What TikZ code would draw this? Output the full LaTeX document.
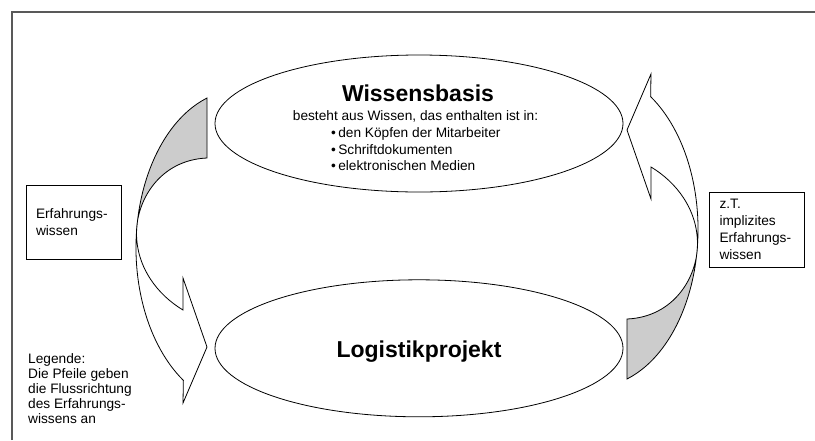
\documentclass[tikz,border=0pt]{standalone}
\usepackage{fontspec}
\setmainfont{Liberation Sans}
\usetikzlibrary{shapes.geometric,positioning}

\begin{document}
\begin{tikzpicture}[x=1pt, y=1pt,
      ell/.style    = {ellipse, draw, line width=0.8pt,
                       minimum width=408pt, minimum height=137pt, inner sep=0pt},
      titel/.style  = {font=\fontsize{23}{26}\selectfont\bfseries, inner sep=0pt},
      txt/.style    = {font=\fontsize{13.7}{16.5}\selectfont, inner sep=0pt},
      kasten/.style = {rectangle, draw, line width=0.7pt,
                       minimum height=74pt, text width=75pt, inner xsep=10pt,
                       align=left, font=\fontsize{13.7}{17}\selectfont},
      pfeil/.pic    = {
        % Rueckseite (grau)
        \fill[black!20] (207,-98) arc[start angle=108.5, end angle=174.5, x radius=104, y radius=158]
          .. controls (136.5,-200) and (160,-160) .. (207,-158) -- cycle;
        % Umriss
        \draw[line width=0.8pt] (207,-98) arc[start angle=108.5, end angle=237, x radius=104, y radius=158]
          -- (183,-403) -- (207,-347) -- (183,-278) -- (183,-310)
          .. controls (158,-295) and (136.5,-268) .. (136.5,-233)
          .. controls (136.5,-200) and (160,-160) .. (207,-158) -- cycle;
      }
    ]
    \useasboundingbox (0,0) rectangle (815,-440);
    \draw[black!65, line width=1.5pt] (12,-440) -- (12,-12) -- (815,-12);

    % Pfeile
    \pic at (0,0) {pfeil};
    \pic[rotate=180] at (834,-477) {pfeil};

    % Ellipsen
    \node[ell] (wb) at (419,-123.5) {};
    \node[ell, below=87pt of wb] (lp) {};

    \node[titel, anchor=base] (wbtitel) at (418,-101.7) {Wissensbasis};
    \node[txt, anchor=base] (wbtext) at (415.5,-120.7) {besteht aus Wissen, das enthalten ist in:};
    \node[txt, anchor=north west, align=left] (wbliste) at (331,-127.5)
      {\textbullet\,den Köpfen der Mitarbeiter\\ \textbullet\,Schriftdokumenten\\ \textbullet\,elektronischen Medien};
    \node[titel, anchor=base] (lptitel) at (419,-357) {Logistikprojekt};

    % Kaesten
    \node[kasten] (ew) at (73.5,-222) {Erfahrungs-\\wissen};
    \node[kasten, minimum height=75pt] (iw) at (757,-229.5) {z.T.\\implizites\\Erfahrungs-\\wissen};

    \node[txt, anchor=north west, align=left, font=\fontsize{13.7}{15.2}\selectfont] (legende) at (28,-353)
      {Legende:\\Die Pfeile geben\\die Flussrichtung\\des Erfahrungs-\\wissens an};
  \end{tikzpicture}
\end{document}
